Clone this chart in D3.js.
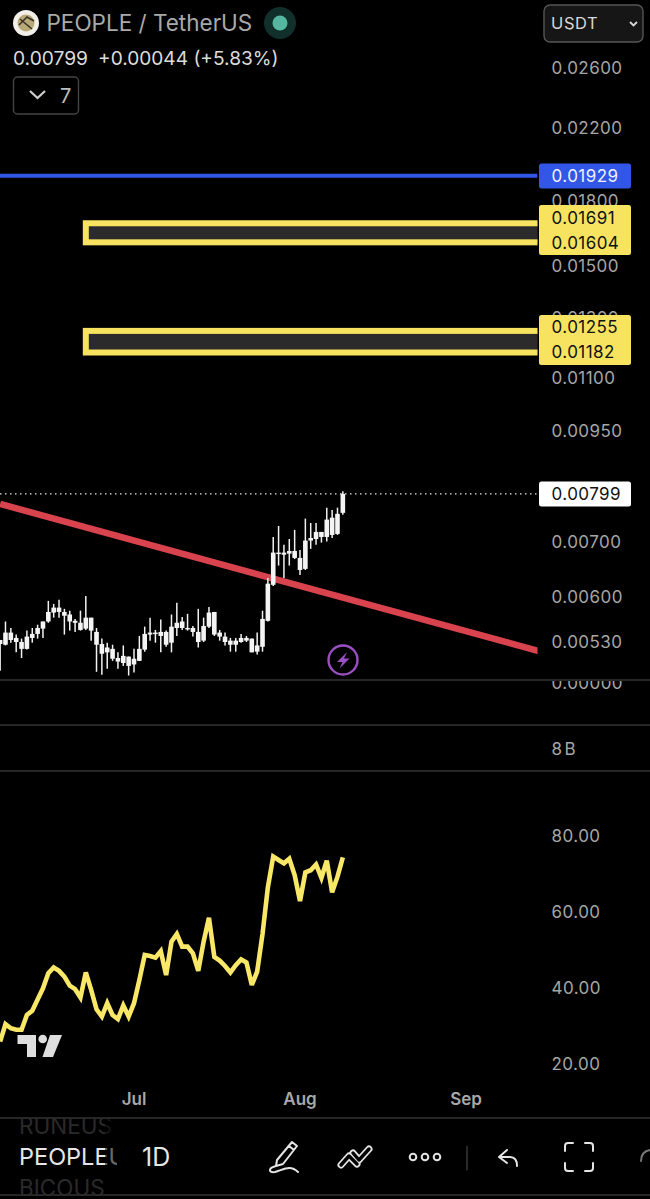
<!DOCTYPE html>
<html><head><meta charset="utf-8">
<script src="https://cdn.jsdelivr.net/npm/d3@7"></script>
<style>html,body{margin:0;padding:0;background:#000}svg{display:block}text{font-family:Inter,"Noto Sans",sans-serif}</style>
</head><body><svg id="c" width="650" height="1199"></svg>
<script>
// ---- data (prices in units of 0.00001) ----
const firstDate = "2024-06-06";
const candleHigh  = [533,561,551,541,535,547,551,556,561,594,589,596,581,578,565,578,602,567,551,535,529,526,515,525,509,520,539,553,567,548,564,547,572,591,568,573,554,581,567,584,576,548,544,536,536,542,539,535,544,578,633,709,731,694,705,723,684,746,737,737,719,769,764,769,805];
const candleUpper = [533,544,544,536,530,538,542,551,561,576,583,583,576,572,562,559,567,567,545,527,522,520,507,510,509,506,520,542,544,544,545,545,553,559,561,551,551,545,554,575,576,544,538,532,532,536,536,535,525,565,623,679,679,679,682,682,669,702,707,719,719,744,748,756,799];
const candleLower = [527,526,533,530,520,520,536,542,550,561,575,576,570,561,559,548,550,547,526,513,515,506,502,500,496,498,503,519,541,542,539,526,529,551,551,550,545,530,532,553,541,538,530,526,526,530,532,515,516,523,562,621,677,675,677,669,647,649,702,705,709,709,713,715,758];
const candleLow   = [489.5,525,529,515,507,519,529,535,536,559,567,567,541,547,545,547,548,532,488,484,492,503,492,496,483,487,503,516,532,529,515,523,515,539,548,547,538,522,530,551,539,532,525,516,516,529,530,515,512,516,561,619,655,633,655,667,638,647,686,694,698,700,707,713,754];
const rsiValues   = [25.9,30.5,29.4,29,29,32.9,34,37,39.9,43.9,45.4,44.5,43,40.6,39.7,37.5,44.1,39.5,34.4,32.5,36,32.9,31.8,35.4,32.5,36,42.1,48.7,48.4,48,49.7,43.4,52.2,54.2,50.9,50.9,49.1,44.5,52.2,58.5,48.2,47.2,45.8,44.1,46,47.5,46.7,40.8,44.3,54.2,66.5,74.6,73.7,72.8,74,69.7,62.9,70.4,71,72.5,69,73.5,65.2,69.3,74.4];
const priceTicks  = [0.026,0.022,0.018,0.015,0.013,0.011,0.0095,0.007,0.006,0.0053];
const rsiTicks    = [80,60,40,20];
const monthTicks  = [["2024-07-01","Jul"],["2024-08-01","Aug"],["2024-09-01","Sep"]];
const lastPrice   = 0.00799;
const blueLevel   = 0.01929;
const zones       = [{top:0.01691,bottom:0.01604,start:"2024-06-22"},{top:0.01255,bottom:0.01182,start:"2024-06-22"}];
const trendStart  = {date:"2024-06-06",price:0.00777};
const trendEnd    = {date:"2024-09-15",price:0.00516};

// ---- scales ----
const svg = d3.select("#c");
const W=650, plotR=537.5;
const parse=d3.utcParse("%Y-%m-%d");
const x=d3.scaleUtc().domain([parse("2024-07-01"),parse("2024-09-01")]).range([134,466]);
const y=d3.scaleLog().domain([0.026,0.0053]).range([68,642]);
const yr=d3.scaleLinear().domain([80,20]).range([836,1064]);
const day=i=>d3.utcDay.offset(parse(firstDate),i);
const u=1e-5;

svg.append("rect").attr("width",W).attr("height",1199).attr("fill","#000");
const defs=svg.append("defs");
defs.append("clipPath").attr("id","plot").append("rect").attr("x",0).attr("y",0).attr("width",plotR).attr("height",680);
defs.append("clipPath").attr("id","sym").append("rect").attr("x",0).attr("y",1118).attr("width",117).attr("height",78);
defs.append("clipPath").attr("id","zero").append("rect").attr("x",540).attr("y",681).attr("width",110).attr("height",30);

const main=svg.append("g").attr("clip-path","url(#plot)");

// levels
main.append("line").attr("x1",0).attr("x2",plotR).attr("y1",y(blueLevel)).attr("y2",y(blueLevel)).attr("stroke","#3257e6").attr("stroke-width",4);
main.selectAll("rect.z").data(zones).join("rect").attr("class","z")
 .attr("x",d=>x(parse(d.start))).attr("width",d=>plotR+10-x(parse(d.start)))
 .attr("y",d=>y(d.top)).attr("height",d=>y(d.bottom)-y(d.top))
 .attr("fill","#2b2b2b").attr("stroke","#f7e35f").attr("stroke-width",6);

// last price line
main.append("line").attr("x1",0).attr("x2",plotR).attr("y1",y(lastPrice)).attr("y2",y(lastPrice)).attr("stroke","#e8e8e8").attr("stroke-width",1.3).attr("stroke-dasharray","1.5 3.5");

// trend line
main.append("line").attr("x1",x(parse(trendStart.date))).attr("y1",y(trendStart.price)).attr("x2",x(parse(trendEnd.date))).attr("y2",y(trendEnd.price)).attr("stroke","#d9434e").attr("stroke-width",6.5);

// candles
const idx=d3.range(candleHigh.length);
const cg=main.append("g");
cg.selectAll("line").data(idx).join("line")
 .attr("x1",i=>x(day(i))).attr("x2",i=>x(day(i)))
 .attr("y1",i=>y(candleHigh[i]*u)).attr("y2",i=>y(candleLow[i]*u))
 .attr("stroke","#f2f2f2").attr("stroke-width",1.5);
cg.selectAll("rect").data(idx).join("rect")
 .attr("x",i=>x(day(i))-2.3).attr("width",4.6)
 .attr("y",i=>y(candleUpper[i]*u)).attr("height",i=>Math.max(1.5,y(candleLower[i]*u)-y(candleUpper[i]*u)))
 .attr("fill","#f4f4f4");

// pane separators
[680,725,771,1118,1195].forEach(v=>svg.append("line").attr("x1",0).attr("x2",W).attr("y1",v).attr("y2",v).attr("stroke","#333").attr("stroke-width",1.4));

// price axis
const axisG=svg.append("g");
const axisText=(t,yy,par)=>(par||axisG).append("text").attr("x",551.5).attr("y",yy).attr("dy","0.35em").attr("fill","#a6a6a6").attr("font-size",17).attr("letter-spacing",0.45).text(t);
priceTicks.forEach(v=>axisText(d3.format(".5f")(v),y(v)));
axisText("0.00000",683,svg.append("g").attr("clip-path","url(#zero)"));
axisText("8B",749).attr("letter-spacing",2.5);
rsiTicks.forEach(v=>axisText(d3.format(".2f")(v),yr(v)));

// price tags
const tag=(y0,h,fill)=>svg.append("rect").attr("x",539).attr("y",y0).attr("width",92).attr("height",h).attr("rx",2.5).attr("fill",fill);
const tagText=(v,yy,fill)=>svg.append("text").attr("x",551.5).attr("y",yy).attr("dy","0.35em").attr("fill",fill).attr("font-size",17).attr("letter-spacing",0.45).text(d3.format(".5f")(v));
tag(163.5,25,"#3257e6"); tagText(blueLevel,y(blueLevel),"#f0f0ff");
zones.forEach(z=>{
  const mid=(y(z.top)+y(z.bottom))/2+(z.top>0.015?-2.7:-1.7);
  tag(mid-25,50,"#f7e35f");
  tagText(z.top,mid-12.5,"#111");tagText(z.bottom,mid+12.5,"#111");
});
tag(481.5,25,"#fff"); tagText(lastPrice,y(lastPrice),"#111");

// RSI line
svg.append("path").datum(rsiValues)
 .attr("d",d3.line().x((d,i)=>x(day(i))).y(d=>yr(d)))
 .attr("fill","none").attr("stroke","#f9e768").attr("stroke-width",4.6).attr("stroke-linejoin","miter").attr("stroke-miterlimit",3);

// TradingView mark
const tv=svg.append("g").attr("fill","#dedede");
tv.append("path").attr("d","M17.5 1035H36V1057H27V1044H17.5Z");
tv.append("circle").attr("cx",42.7).attr("cy",1039).attr("r",4.3);
tv.append("path").attr("d","M50 1035H62L53 1057H42.5Z");

// month labels
svg.selectAll("text.m").data(monthTicks).join("text").attr("class","m")
 .attr("x",d=>x(parse(d[0]))).attr("y",1099).attr("dy","0.35em").attr("text-anchor","middle")
 .attr("fill","#a8a8a8").attr("font-size",17).attr("font-weight",600).text(d=>d[1]);

// lightning badge
svg.append("circle").attr("cx",343).attr("cy",660).attr("r",14.5).attr("fill","none").attr("stroke","#9a4fc4").attr("stroke-width",2.4);
svg.append("path").attr("d","M347 652L337 662H342.5L339.5 668.5L349.5 658.5H344Z").attr("fill","#9a4fc4");

// header
svg.append("circle").attr("cx",26).attr("cy",23).attr("r",13).attr("fill","#f1efe8");
svg.append("circle").attr("cx",26).attr("cy",23).attr("r",8.5).attr("fill","#b9a878");
svg.append("path").attr("d","M19 25L27 17L34 21M20 19L32 29").attr("stroke","#3a3226").attr("stroke-width",1.6).attr("fill","none");
svg.append("text").attr("x",46.5).attr("y",23).attr("dy","0.36em").attr("fill","#a9a9a9").attr("font-size",22.5).text("PEOPLE / TetherUS");
svg.append("circle").attr("cx",280).attr("cy",23).attr("r",16).attr("fill","#11302b");
svg.append("circle").attr("cx",280).attr("cy",23).attr("r",7.5).attr("fill","#55b79f");
svg.append("text").attr("x",13).attr("y",58).attr("dy","0.35em").attr("fill","#dcdcdc").attr("font-size",19.2).text("0.00799");
svg.append("text").attr("x",98).attr("y",58).attr("dy","0.35em").attr("fill","#dcdcdc").attr("font-size",19.1).text("+0.00044 (+5.83%)");
svg.append("rect").attr("x",13.5).attr("y",77).attr("width",65).attr("height",37).attr("rx",4).attr("fill","none").attr("stroke","#444").attr("stroke-width",1.4);
svg.append("path").attr("d","M30 91L37.5 98L45 91").attr("fill","none").attr("stroke","#cfcfcf").attr("stroke-width",2.2);
svg.append("text").attr("x",60).attr("y",96).attr("dy","0.35em").attr("fill","#bdbdbd").attr("font-size",20).text("7");
svg.append("rect").attr("x",544).attr("y",5).attr("width",99).attr("height",37).attr("rx",6).attr("fill","#161616").attr("stroke","#555").attr("stroke-width",1.4);
svg.append("text").attr("x",551).attr("y",23).attr("dy","0.36em").attr("fill","#d8d8d8").attr("font-size",16.5).attr("letter-spacing",0.6).text("USDT");
svg.append("path").attr("d","M630 22L633.5 25.5L637 22").attr("fill","none").attr("stroke","#d8d8d8").attr("stroke-width",1.8);

// bottom toolbar
const sym=svg.append("g").attr("clip-path","url(#sym)");
sym.append("text").attr("x",19).attr("y",1126).attr("dy","0.35em").attr("fill","#2a2a2a").attr("font-size",22.5).text("RUNEUS");
sym.append("text").attr("x",19).attr("y",1157).attr("dy","0.36em").attr("fill","#e6e6e6").attr("font-size",23.5).text("PEOPLEU");
sym.append("text").attr("x",19).attr("y",1188).attr("dy","0.35em").attr("fill","#2a2a2a").attr("font-size",22.5).text("BICOUS");
svg.append("rect").attr("x",105).attr("y",1119).attr("width",12).attr("height",75).attr("fill","#000").attr("opacity",0.55);
svg.append("text").attr("x",142).attr("y",1157).attr("dy","0.36em").attr("fill","#e6e6e6").attr("font-size",25).text("1D");
const ic=svg.append("g").attr("fill","none").attr("stroke","#e4e4e4").attr("stroke-width",2).attr("stroke-linecap","round").attr("stroke-linejoin","round");
ic.append("path").attr("d","M277 1160L292 1142L297 1146L283 1164L276 1166ZM289 1146L294 1150M276 1166C268 1168 268 1173 275 1172C283 1170 290 1164 298 1172");
const zig="M341 1165L349 1156L357 1164M353 1153L359 1160L369 1149";
ic.append("path").attr("d",zig).attr("stroke-width",7);
ic.append("path").attr("d",zig).attr("stroke","#000").attr("stroke-width",3.4);
[413,425,437].forEach(cx=>ic.append("circle").attr("cx",cx).attr("cy",1157).attr("r",3.3));
ic.append("path").attr("d","M467 1146V1170").attr("stroke","#444").attr("stroke-width",1.2);
ic.append("path").attr("d","M507 1150L499 1157L507 1163M499 1157H510C515 1157 517 1161 517 1166");
ic.append("path").attr("d","M573 1143H568C566 1143 565 1144 565 1146V1151M585 1143H590C592 1143 593 1144 593 1146V1151M565 1163V1168C565 1170 566 1171 568 1171H573M593 1163V1168C593 1170 592 1171 590 1171H585");
ic.append("path").attr("d","M650 1150C644 1151 641 1155 641 1161").attr("stroke","#777");
</script></body></html>
